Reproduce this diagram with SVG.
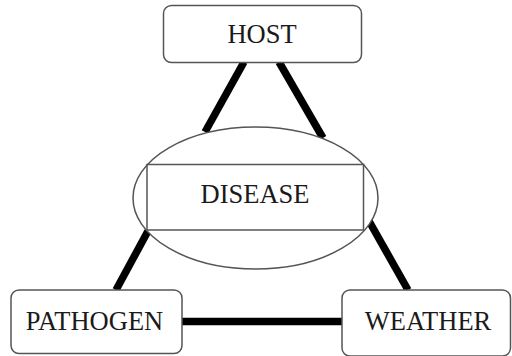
<svg xmlns="http://www.w3.org/2000/svg" width="512" height="356" viewBox="0 0 512 356">
<style>
.box{fill:#fff;stroke:#555;stroke-width:1.5}
.lbl{font-family:"Liberation Serif","Times New Roman",serif;font-size:26.5px;fill:#1a1a1a;text-anchor:middle}
.conn{stroke:#000;stroke-width:7.5;stroke-linecap:butt;fill:none}
.thin{fill:none;stroke:#555;stroke-width:1.5}
</style>
<rect width="512" height="356" fill="#fff"/>
<g id="connectors">
<line class="conn" x1="244" y1="62" x2="205" y2="132"/>
<line class="conn" x1="279" y1="62" x2="323" y2="138"/>
<line class="conn" x1="148" y1="231" x2="116" y2="290"/>
<line class="conn" x1="369" y1="221" x2="408" y2="290"/>
<line class="conn" x1="182" y1="321.5" x2="342" y2="321.5"/>
</g>
<g id="host">
<rect class="box" x="163.5" y="5.5" width="198" height="57" rx="8"/>
<text class="lbl" x="262" y="42.5">HOST</text>
</g>
<g id="disease">
<ellipse class="box" cx="255.5" cy="198" rx="122.5" ry="71"/>
<rect class="thin" x="147" y="164.5" width="216.5" height="65.5"/>
<text class="lbl" x="255" y="203">DISEASE</text>
</g>
<g id="pathogen">
<rect class="box" x="11" y="290" width="171" height="63.5" rx="8"/>
<text class="lbl" x="94.5" y="330">PATHOGEN</text>
</g>
<g id="weather">
<rect class="box" x="342" y="290" width="168.5" height="66" rx="8"/>
<text class="lbl" x="428" y="330">WEATHER</text>
</g>
</svg>
